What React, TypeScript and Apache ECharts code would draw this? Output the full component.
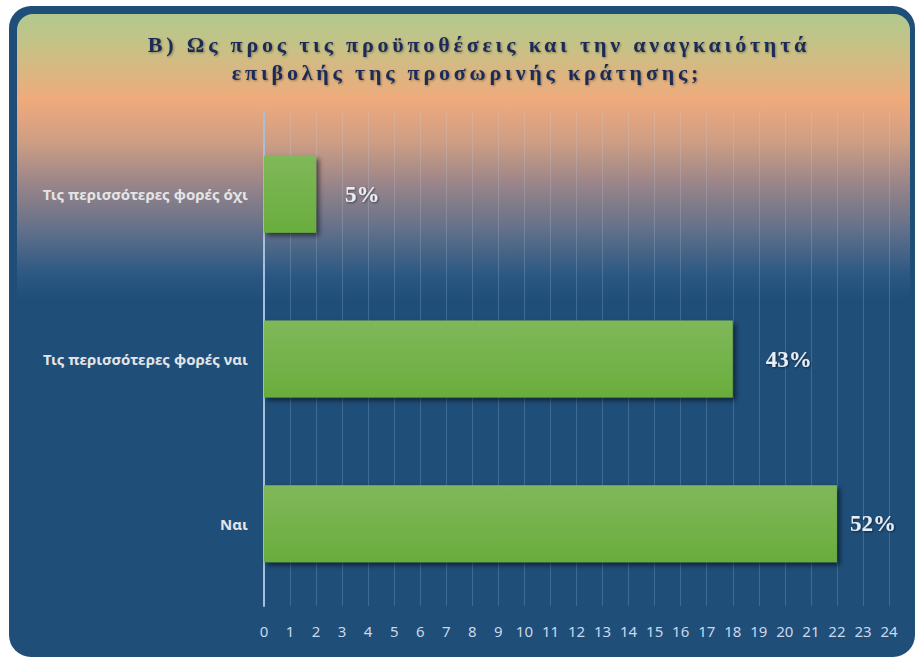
import React, { useEffect, useRef } from "react";
import * as echarts from "echarts";

const TITLE_LINES = [
  "Β) Ως προς τις προϋποθέσεις και την αναγκαιότητά",
  "επιβολής της προσωρινής κράτησης;",
];
const CATEGORIES = ["Ναι", "Τις περισσότερες φορές ναι", "Τις περισσότερες φορές όχι"];
const COUNTS = [22, 18, 2];
const AXIS_MIN = 0;
const AXIS_MAX = 24;
const AXIS_STEP = 1;

const LABEL_GAPS = [13, 33, 29];

export default function App() {
  const ref = useRef<HTMLDivElement>(null);
  useEffect(() => {
    if (!ref.current) return;
    const chart = echarts.init(ref.current, null, { renderer: "svg" });
    const total = COUNTS.reduce((a, b) => a + b, 0);
    const data = COUNTS.map((v, i) => ({
      value: v,
      label: { distance: LABEL_GAPS[i] },
    }));
    const titleStyle = {
      font: "bold 22px 'Liberation Serif'",
      fill: "#1c2b58",
      textAlign: "center",
      textVerticalAlign: "middle",
      textShadowColor: "rgba(0,0,0,0.35)",
      textShadowBlur: 2,
      textShadowOffsetX: 1,
      textShadowOffsetY: 1,
    };
    chart.setOption({
      animation: false,
      graphic: [
        {
          type: "rect",
          z: -10,
          shape: { x: 9, y: 6, width: 906, height: 651, r: 22 },
          style: { fill: "#1f4e79" },
        },
        {
          type: "rect",
          z: -9,
          shape: { x: 17, y: 14, width: 893, height: 636, r: [16, 16, 16, 16] },
          style: {
            fill: new echarts.graphic.LinearGradient(0, 0, 0, 1, [
              { offset: 0, color: "#b1c98e" },
              { offset: 0.05, color: "#c6c286" },
              { offset: 0.135, color: "#f0aa7c" },
              { offset: 0.2, color: "#cf9e84" },
              { offset: 0.27, color: "#978489" },
              { offset: 0.34, color: "#62708a" },
              { offset: 0.41, color: "#2b5883" },
              { offset: 0.45, color: "#1f4e79" },
              { offset: 1, color: "#1f4e79" },
            ]),
          },
        },
        {
          type: "text",
          z: 10,
          x: 479,
          y: 44,
          style: { ...titleStyle, text: TITLE_LINES[0] },
        },
        {
          type: "text",
          z: 10,
          x: 467,
          y: 72,
          style: { ...titleStyle, text: TITLE_LINES[1] },
        },
      ],
      grid: { left: 264, right: 26, top: 112, bottom: 52 },
      xAxis: {
        type: "value",
        min: AXIS_MIN,
        max: AXIS_MAX,
        interval: AXIS_STEP,
        axisLine: { show: false },
        axisTick: { show: false },
        splitLine: { show: true, lineStyle: { color: "rgba(200,220,240,0.2)", width: 1 } },
        axisLabel: {
          color: "#c9d8ea",
          fontSize: 15,
          fontFamily: "'Noto Sans'",
          margin: 17,
        },
      },
      yAxis: {
        type: "category",
        data: CATEGORIES,
        axisTick: { show: false },
        axisLine: { show: true, lineStyle: { color: "#a7bfdb", width: 2 } },
        axisLabel: {
          color: "#e4e4e6",
          fontSize: 15,
          fontWeight: "bold",
          fontFamily: "'Noto Sans'",
          margin: 16,
        },
      },
      series: [
        {
          type: "bar",
          data,
          barWidth: 77,
          itemStyle: {
            color: new echarts.graphic.LinearGradient(0, 0, 0, 1, [
              { offset: 0, color: "#80b85a" },
              { offset: 1, color: "#69ad3c" },
            ]),
            shadowColor: "rgba(0,0,0,0.55)",
            shadowBlur: 5,
            shadowOffsetX: 3,
            shadowOffsetY: 3,
          },
          label: {
            show: true,
            position: "right",
            formatter: (p: any) => Math.round((p.value / total) * 100) + "%",
            color: "#e8eef6",
            fontFamily: "'Liberation Serif'",
            fontWeight: "bold",
            fontSize: 23,
            textShadowColor: "rgba(0,0,0,0.5)",
            textShadowBlur: 2,
            textShadowOffsetX: 1,
            textShadowOffsetY: 1,
          },
        },
      ],
    });
    const applySpacing = () => {
      const texts = ref.current?.querySelectorAll("text") || [];
      texts.forEach((t) => {
        if (TITLE_LINES.includes((t.textContent || "").trim())) {
          t.setAttribute("letter-spacing", "3.8");
        }
      });
    };
    applySpacing();
    chart.on("finished", applySpacing);
    return () => chart.dispose();
  }, []);
  return (
    <div
      ref={ref}
      style={{ position: "absolute", left: 0, top: 0, width: 915, height: 658 }}
    />
  );
}
